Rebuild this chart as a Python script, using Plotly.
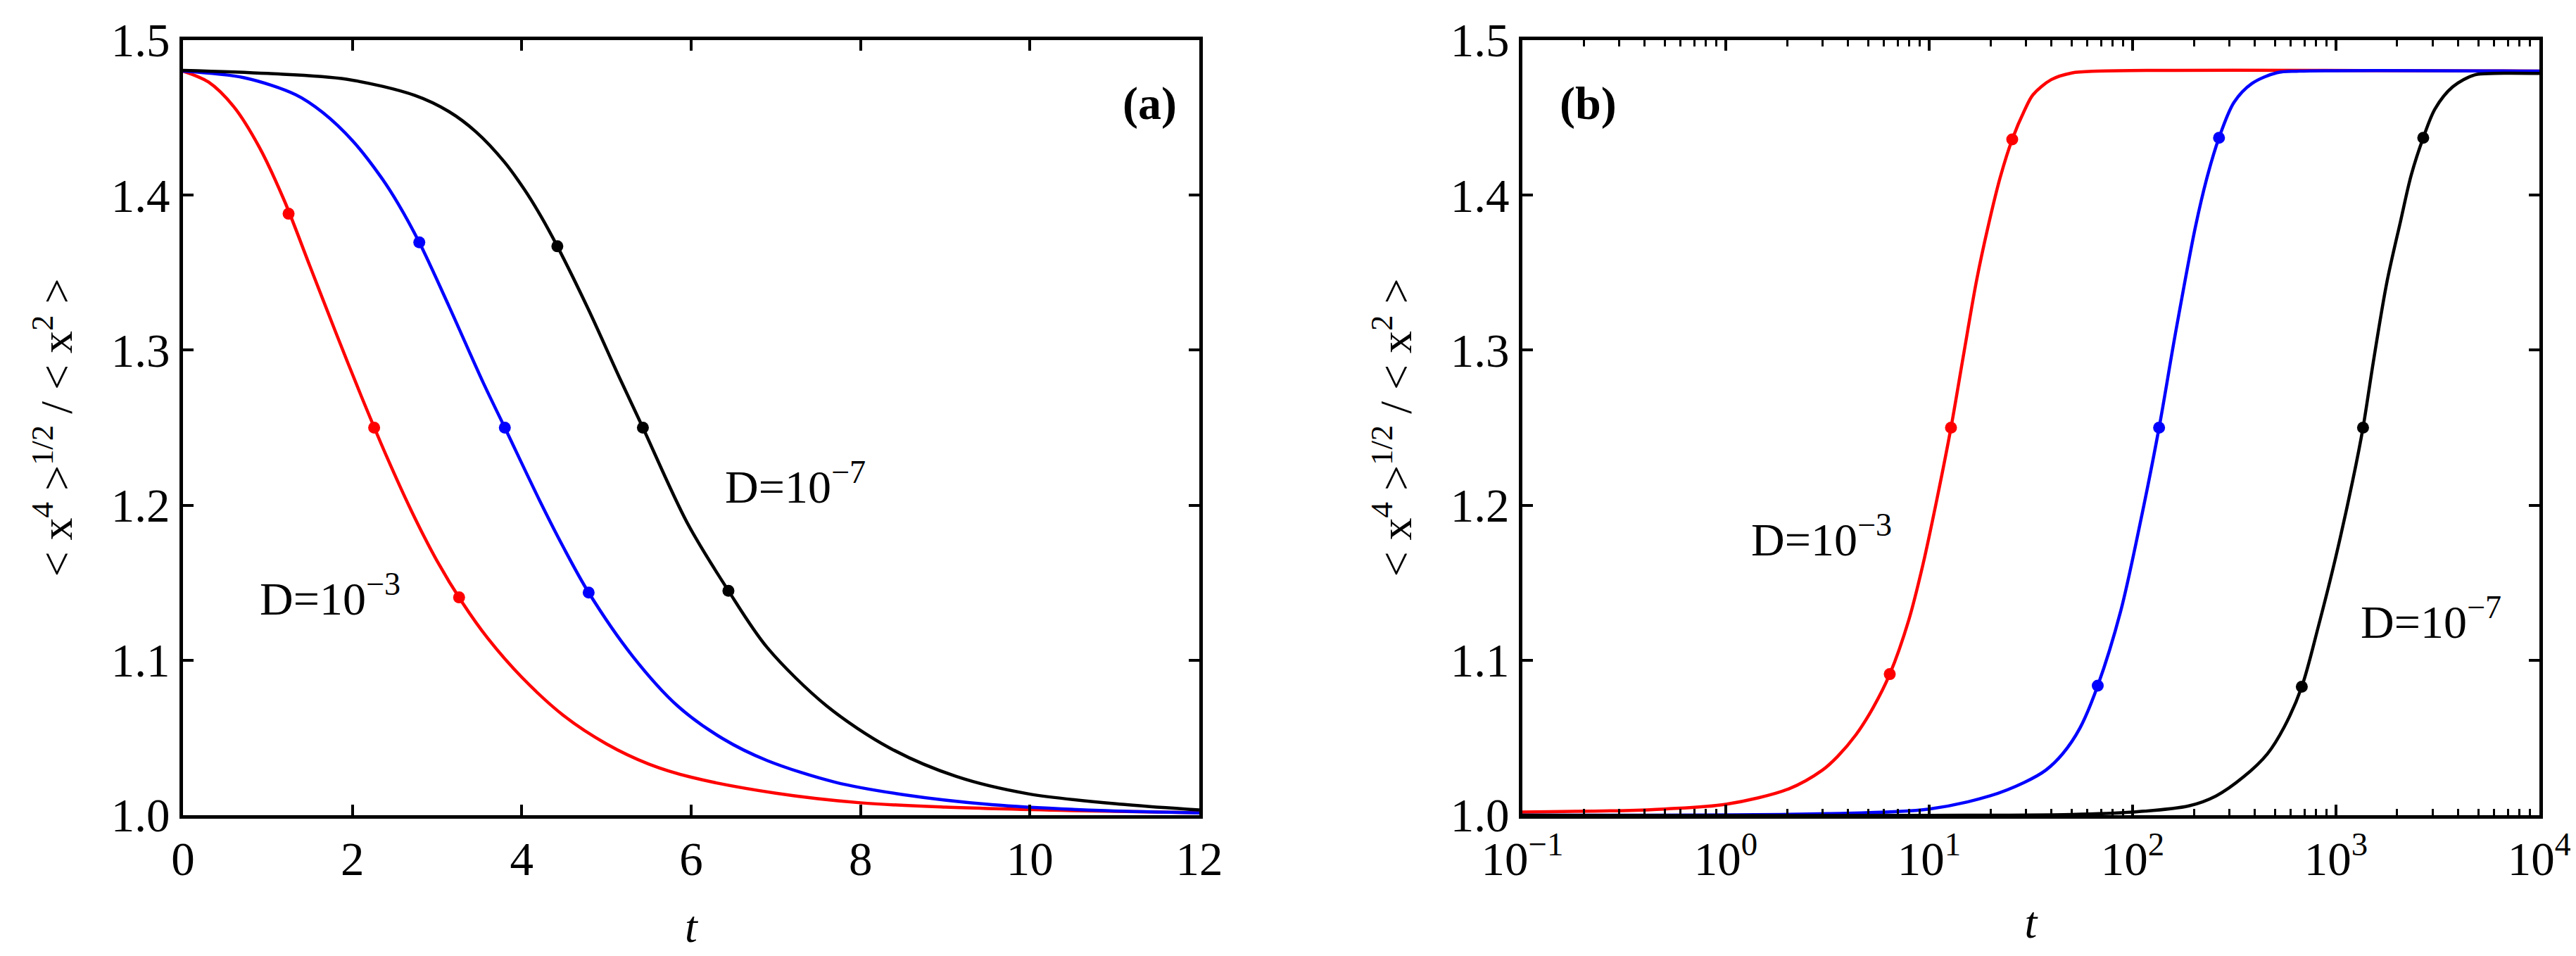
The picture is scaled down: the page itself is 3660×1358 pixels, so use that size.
import plotly.graph_objects as go

# ---- panel (a): linear time ----
t_red_a = [0, 0.3, 0.6, 0.9, 1.2, 1.5, 1.8, 2.1, 2.4, 2.7, 3.0, 3.3, 3.6, 4.0, 4.5, 5.0, 5.5,
           6.0, 7.0, 8.0, 9.0, 10.5, 12]
y_red_a = [1.48, 1.473, 1.457, 1.431, 1.396, 1.354, 1.312, 1.271, 1.232, 1.196, 1.164, 1.137,
           1.114, 1.089, 1.064, 1.046, 1.033, 1.0245, 1.0142, 1.008, 1.0052, 1.003, 1.0016]

t_blue_a = [0, 0.725, 1.33, 1.65, 2.01, 2.34, 2.54, 2.79, 3.14, 3.545, 3.80, 4.22, 4.49, 4.79,
            5.31, 5.84, 6.37, 6.9, 7.7, 8.5, 9.55, 10.9, 12]
y_blue_a = [1.48, 1.4757, 1.4648, 1.4533, 1.4346, 1.4115, 1.3945, 1.3695, 1.3284, 1.279, 1.25,
            1.202, 1.173, 1.1436, 1.1025, 1.0705, 1.0495, 1.0352, 1.0213, 1.0133, 1.0068, 1.0029, 1.0015]

t_black_a = [0, 1.0, 1.93, 2.74, 3.14, 3.46, 3.79, 4.03, 4.22, 4.42, 4.785, 5.15, 5.43, 5.95,
             6.44, 6.9, 7.6, 8.34, 9.13, 9.98, 11.14, 12]
y_black_a = [1.4805, 1.4785, 1.4748, 1.4643, 1.4539, 1.4408, 1.4217, 1.4037, 1.387, 1.367, 1.3265,
             1.2827, 1.25, 1.189, 1.1448, 1.108, 1.0705, 1.0435, 1.025, 1.0138, 1.0068, 1.0034]

mk_t_red_a = [1.247, 2.257, 3.26]
mk_y_red_a = [1.388, 1.25, 1.1405]
mk_t_blue_a = [2.79, 3.80, 4.79]
mk_y_blue_a = [1.3695, 1.25, 1.1436]
mk_t_black_a = [4.42, 5.43, 6.44]
mk_y_black_a = [1.367, 1.25, 1.1448]

# ---- panel (b): log time ----
t_red_b = [0.1, 0.316, 0.501, 1, 2.04, 2.98, 3.55, 4.37, 5.28, 6.4, 7.94, 9.33, 10.96, 12.8,
           14.8, 17.1, 19.5, 22.4, 25.6, 29.5, 32.4, 39.8, 50.1, 67.6, 10000]
y_red_b = [1.002, 1.003, 1.004, 1.007, 1.017, 1.029, 1.038, 1.052, 1.069, 1.091, 1.126, 1.162,
           1.205, 1.25, 1.298, 1.345, 1.38, 1.412, 1.436, 1.455, 1.4648, 1.4745, 1.4788, 1.48, 1.48]

t_blue_b = [0.1, 3.16, 10, 19.95, 29.2, 37.4, 45.3, 55.0, 67.4, 87.3, 110, 135, 162, 204, 234,
            266, 315, 386, 513, 661, 10000]
y_blue_b = [1.0, 1.001, 1.004, 1.0125, 1.021, 1.029, 1.0396, 1.056, 1.0836, 1.1314, 1.191, 1.25,
            1.31, 1.38, 1.413, 1.437, 1.4598, 1.472, 1.479, 1.48, 1.48]

t_black_b = [0.1, 50, 100, 189, 257, 351, 460, 557, 679, 818, 995, 1208, 1358, 1524, 1774, 2075,
             2344, 2685, 3069, 3750, 4808, 6026, 10000]
y_black_b = [1.0, 1.0005, 1.002, 1.006, 1.0124, 1.0247, 1.0396, 1.057, 1.0829, 1.1215, 1.166,
             1.2158, 1.25, 1.292, 1.343, 1.383, 1.413, 1.437, 1.4557, 1.4699, 1.4776, 1.4785, 1.4785]

mk_t_red_b = [6.4, 12.8, 25.6]
mk_y_red_b = [1.091, 1.25, 1.436]
mk_t_blue_b = [67.4, 135, 266]
mk_y_blue_b = [1.0836, 1.25, 1.437]
mk_t_black_b = [679, 1358, 2685]
mk_y_black_b = [1.0829, 1.25, 1.437]

log_tickvals = [0.1, 1, 10, 100, 1000, 10000]
log_ticktext = ["10<sup>−1</sup>", "10<sup>0</sup>", "10<sup>1</sup>", "10<sup>2</sup>",
                "10<sup>3</sup>", "10<sup>4</sup>"]

FONT = "Liberation Serif"
RED, BLUE, BLACK = "#ff0000", "#0000ff", "#000000"

fig = go.Figure()

def add_curve(t, y, color, xa, ya):
    fig.add_trace(go.Scatter(x=t, y=y, mode="lines", xaxis=xa, yaxis=ya,
                             line=dict(color=color, width=4.5, shape="spline", smoothing=0.9),
                             showlegend=False, hoverinfo="skip"))

def add_marks(t, y, color, xa, ya):
    fig.add_trace(go.Scatter(x=t, y=y, mode="markers", xaxis=xa, yaxis=ya,
                             marker=dict(color=color, size=17),
                             showlegend=False, hoverinfo="skip"))

add_curve(t_red_a, y_red_a, RED, "x", "y")
add_curve(t_blue_a, y_blue_a, BLUE, "x", "y")
add_curve(t_black_a, y_black_a, BLACK, "x", "y")
add_marks(mk_t_red_a, mk_y_red_a, RED, "x", "y")
add_marks(mk_t_blue_a, mk_y_blue_a, BLUE, "x", "y")
add_marks(mk_t_black_a, mk_y_black_a, BLACK, "x", "y")

add_curve(t_red_b, y_red_b, RED, "x2", "y2")
add_curve(t_blue_b, y_blue_b, BLUE, "x2", "y2")
add_curve(t_black_b, y_black_b, BLACK, "x2", "y2")
add_marks(mk_t_red_b, mk_y_red_b, RED, "x2", "y2")
add_marks(mk_t_blue_b, mk_y_blue_b, BLUE, "x2", "y2")
add_marks(mk_t_black_b, mk_y_black_b, BLACK, "x2", "y2")

axis_common = dict(showline=True, linewidth=5, linecolor="black", mirror="ticks",
                   ticks="inside", ticklen=15, tickwidth=3.5, tickcolor="black",
                   showgrid=False, zeroline=False,
                   tickfont=dict(family=FONT, size=67, color="black"))

ytitle = "&lt; x<sup>4</sup> &gt;<sup>1/2</sup> / &lt; x<sup>2</sup> &gt;"
title_font = dict(family=FONT, size=64, color="black")

fig.update_layout(
    width=3660, height=1358,
    paper_bgcolor="white", plot_bgcolor="white",
    margin=dict(l=252, r=60, t=45, b=208),
    font=dict(family=FONT, color="black"),
    xaxis=dict(domain=[0, 0.4313], range=[0, 12], dtick=2, anchor="y",
               title=dict(text="<i>t</i>", font=title_font, standoff=38),
               **axis_common),
    yaxis=dict(domain=[0, 1], range=[1.0, 1.5], dtick=0.1, tickformat=".1f", anchor="x",
               title=dict(text=ytitle, font=title_font, standoff=36),
               **axis_common),
    xaxis2=dict(domain=[0.5684, 1], type="log", range=[-1, 4], anchor="y2",
                tickvals=log_tickvals, ticktext=log_ticktext,
                minor=dict(ticks="inside", ticklen=9, tickwidth=3, tickcolor="black",
                           dtick="D1", showgrid=False),
                title=dict(text="<i>t</i>", font=title_font, standoff=32),
                **axis_common),
    yaxis2=dict(domain=[0, 1], range=[1.0, 1.5], dtick=0.1, tickformat=".1f", anchor="x2",
                title=dict(text=ytitle, font=title_font, standoff=36),
                **axis_common),
)

ann_font = dict(family=FONT, size=66, color="black")
fig.add_annotation(x=0.89, y=1.142, xref="x", yref="y", text="D=10<sup>−3</sup>",
                   showarrow=False, xanchor="left", yanchor="middle", font=ann_font)
fig.add_annotation(x=6.38, y=1.214, xref="x", yref="y", text="D=10<sup>−7</sup>",
                   showarrow=False, xanchor="left", yanchor="middle", font=ann_font)
fig.add_annotation(x=11.75, y=1.459, xref="x", yref="y", text="<b>(a)</b>",
                   showarrow=False, xanchor="right", yanchor="middle", font=ann_font)
fig.add_annotation(x=0.116, y=1.18, xref="x2", yref="y2", text="D=10<sup>−3</sup>",
                   showarrow=False, xanchor="left", yanchor="middle", font=ann_font)
fig.add_annotation(x=3.114, y=1.127, xref="x2", yref="y2", text="D=10<sup>−7</sup>",
                   showarrow=False, xanchor="left", yanchor="middle", font=ann_font)
fig.add_annotation(x=-0.823, y=1.459, xref="x2", yref="y2", text="<b>(b)</b>",
                   showarrow=False, xanchor="left", yanchor="middle", font=ann_font)

fig.write_html("out.html")
